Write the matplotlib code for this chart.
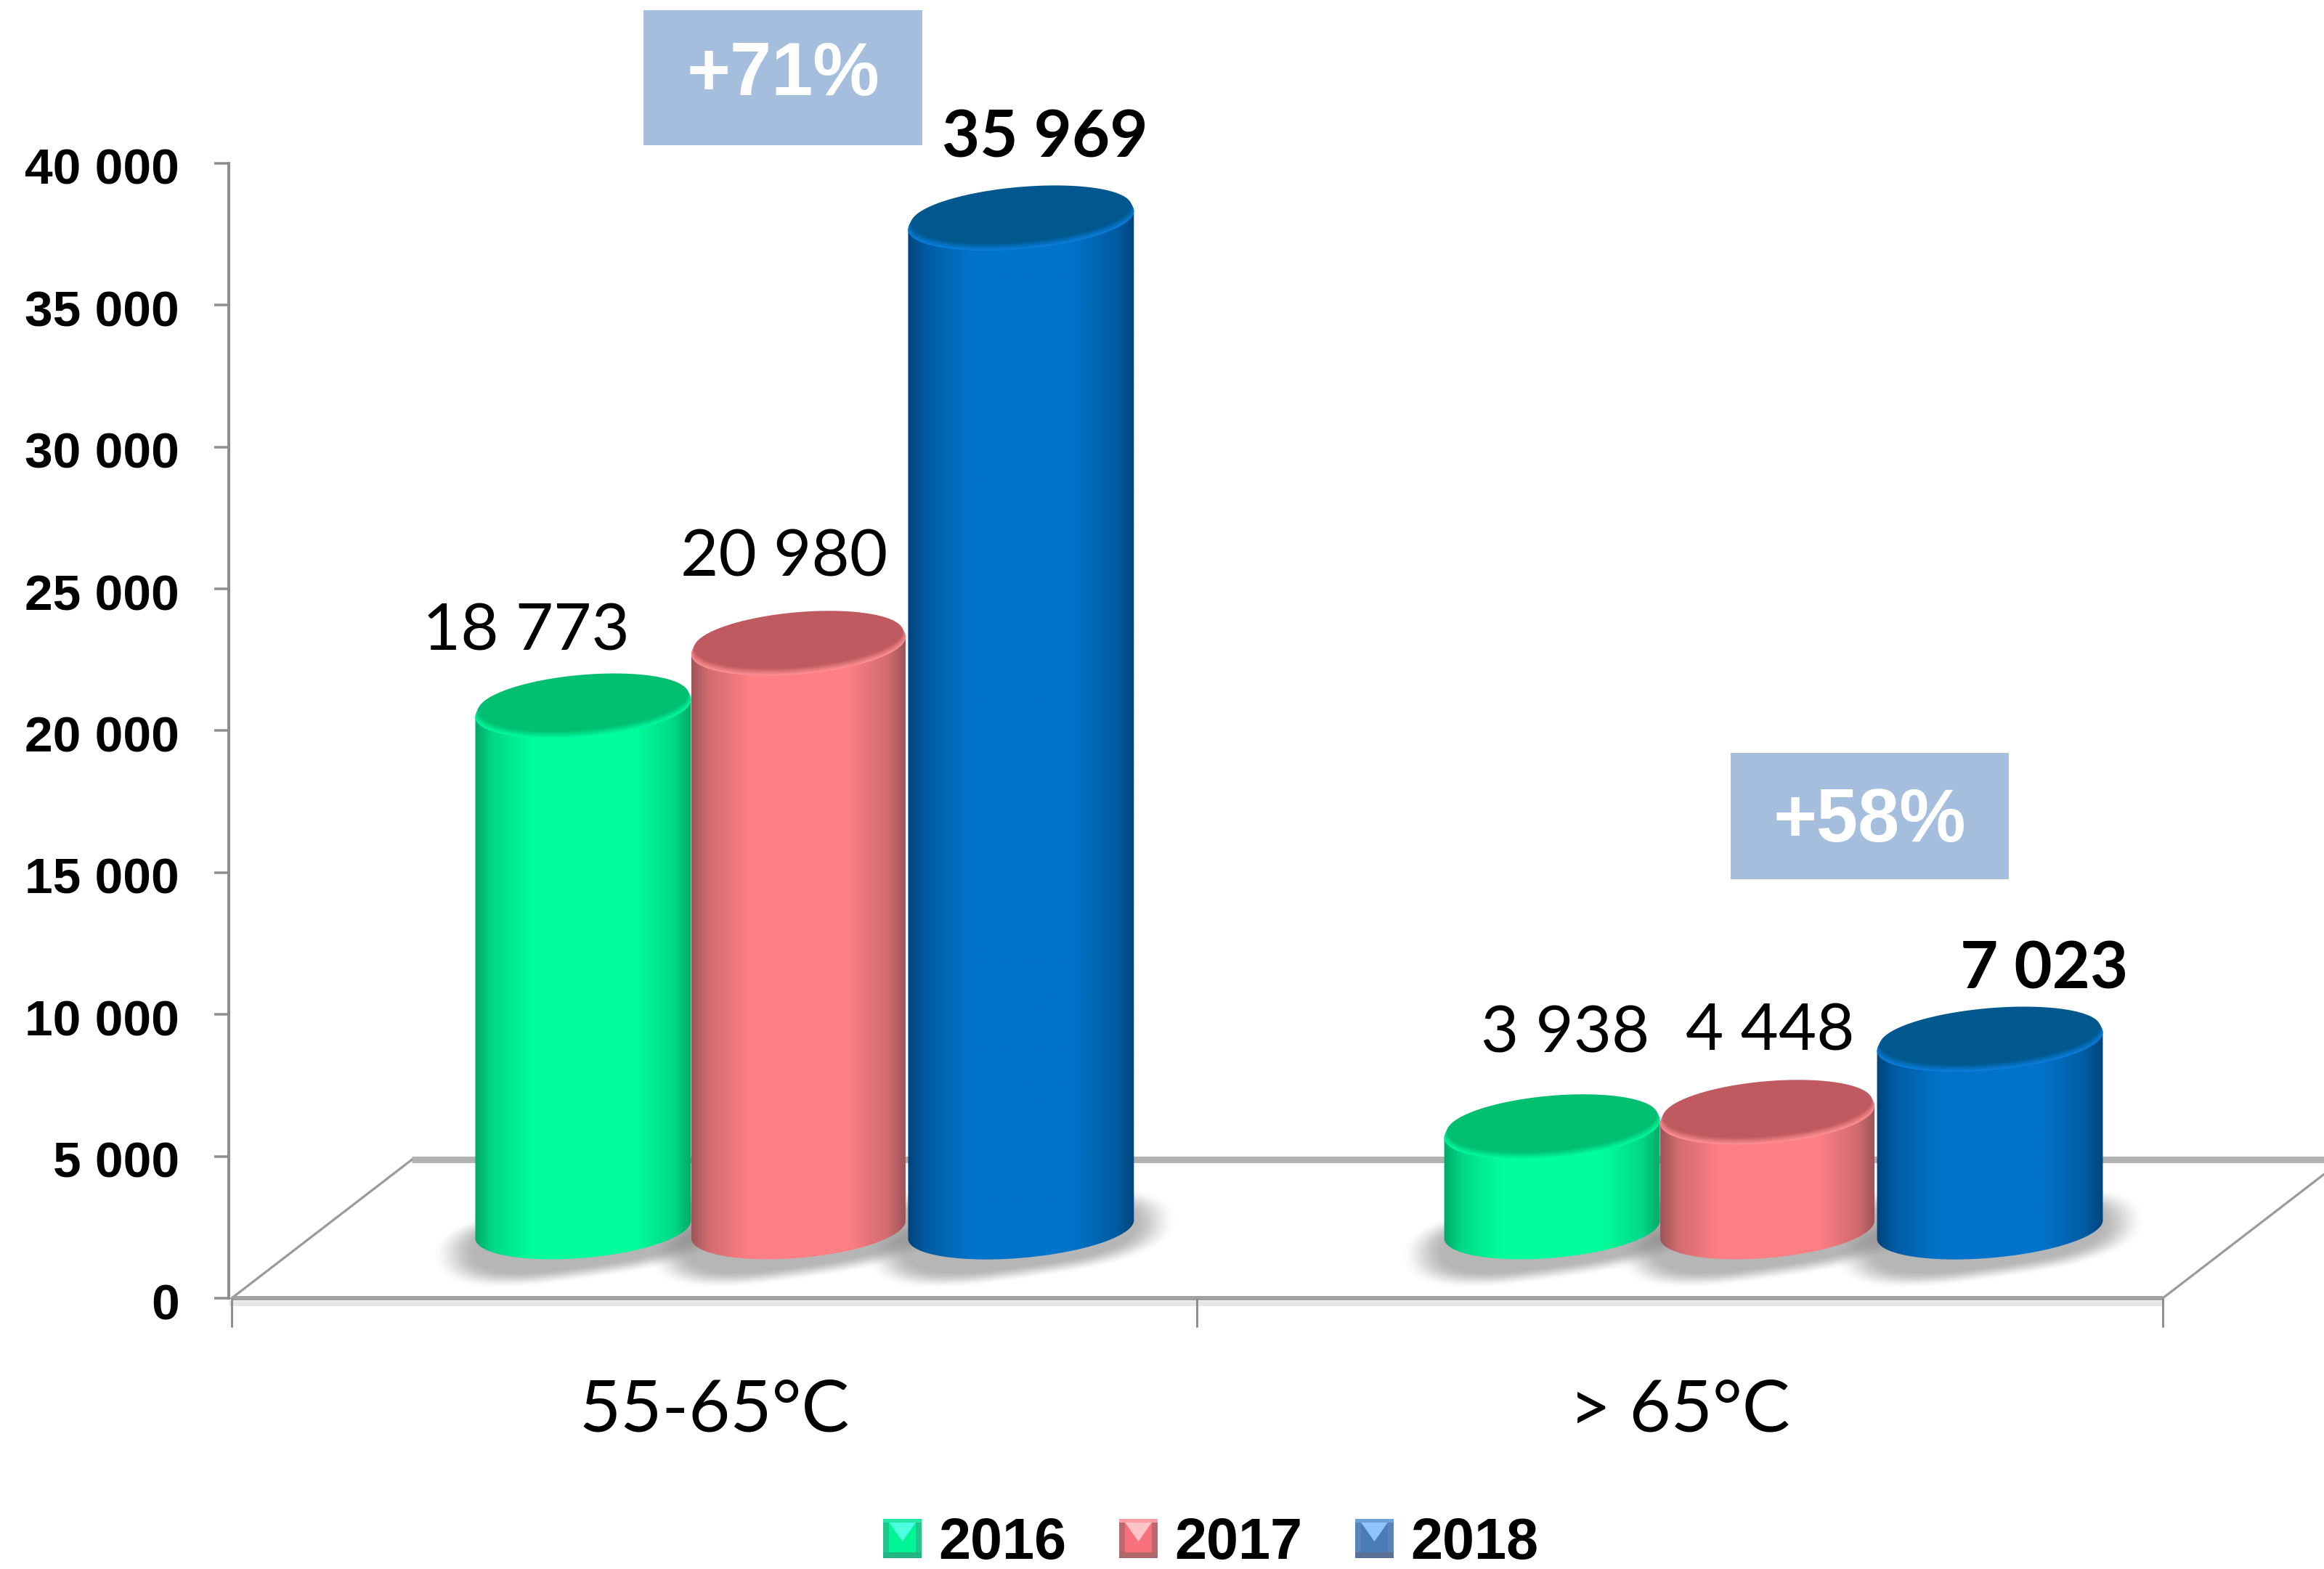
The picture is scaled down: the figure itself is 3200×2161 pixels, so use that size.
import numpy as np
import matplotlib
matplotlib.use("Agg")
import matplotlib.pyplot as plt
from matplotlib.patches import Polygon, Rectangle
from matplotlib.legend_handler import HandlerBase
from matplotlib.colors import to_rgb
from matplotlib.transforms import ScaledTranslation

# ---------- data ----------
categories = ["55-65°C", "> 65°C"]
years = ["2016", "2017", "2018"]
values_2016 = [18773, 3938]
values_2017 = [20980, 4448]
values_2018 = [35969, 7023]
labels_2016 = ["18 773", "3 938"]
labels_2017 = ["20 980", "4 448"]
labels_2018 = ["35 969", "7 023"]
y_ticks = [0, 5000, 10000, 15000, 20000, 25000, 30000, 35000, 40000]
y_tick_labels = ["0", "5 000", "10 000", "15 000", "20 000", "25 000", "30 000", "35 000", "40 000"]
growth_labels = ["+71%", "+58%"]

# ---------- layout (pixels of the 3200x2161 canvas) ----------
W, H = 3200, 2161
DPI = 100
AX_L, AX_R, AX_T, AX_B = 315, 2978, 225, 1788
X0_PX = 319
fig = plt.figure(figsize=(W / DPI, H / DPI), dpi=DPI, facecolor="white")
ax = fig.add_axes([AX_L / W, 1 - AX_B / H, (AX_R - AX_L) / W, (AX_B - AX_T) / H])
ax.patch.set_alpha(0)
SX = (AX_R - X0_PX) / 2.0          # px per x unit
SY = (AX_B - AX_T) / 40000.0       # px per y unit
XMIN = (AX_L - X0_PX) / SX

GRAY = "#8E8E8E"
FONT_B = "Liberation Sans"
FONT_R = "Lato"
PT = 72.0 / DPI

# ---------- floor ----------
DX, DY = 248 / SX, 4880
ax.plot([XMIN, 2], [-170, -170], color="#E6E6E6", lw=7 * PT, zorder=0.8, clip_on=False, solid_capstyle="butt")
ax.plot([DX, 2 + DX], [DY, DY], color="#B2B2B2", lw=9 * PT, zorder=1, clip_on=False, solid_capstyle="butt")
ax.plot([0, 2], [0, 0], color="#A0A0A0", lw=6 * PT, zorder=1.2, clip_on=False, solid_capstyle="butt")
ax.plot([0, DX], [0, DY], color="#9A9A9A", lw=3.2 * PT, zorder=1, clip_on=False)
ax.plot([2, 2 + DX], [0, DY], color="#9A9A9A", lw=3.2 * PT, zorder=1, clip_on=False)

# ---------- cylinders ----------
BASE = 2420       # where the bottom of a cylinder sits on the floor
LID_BASE = 2010   # what the lid height is measured from
B_PX = 39.0
THETA = np.radians(5)
group_center = [0.590, 1.5935]
bar_w = [298 / SX, 296 / SX, 312 / SX]
bar_off = [-0.2260, -0.0030, 0.2275]

styles = [
    dict(edge="#00A868", mid="#00D888", center="#00FF9C", cap="#00BF70", rim="#00FAA0"),
    dict(edge="#9C5558", mid="#D06C70", center="#FF7F84", cap="#BF5A60", rim="#FF8F92"),
    dict(edge="#00447C", mid="#005CA2", center="#0073CA", cap="#00588F", rim="#0A7EDC"),
]


def rgb(c):
    return np.array(to_rgb(c))


def outline(cx, v, w, t0=0.0, t1=2 * np.pi, k=1.0, dy_px=0.0, n=90):
    a, b = w * SX / 2 * k, B_PX * k
    t = np.linspace(t0, t1, n)
    px = a * np.cos(t) * np.cos(THETA) - b * np.sin(t) * np.sin(THETA)
    py = a * np.cos(t) * np.sin(THETA) + b * np.sin(t) * np.cos(THETA)
    return np.c_[cx + px / SX, v + (py + dy_px) / SY]


def shadow(cx, w, z):
    A, B = w * SX / 2 + 62, 58
    xs = np.linspace(-A - 10, A + 10, 220)
    ys = np.linspace(-A * 0.4, A * 0.4, 160)
    gx, gy = np.meshgrid(xs, ys)
    u = gx * np.cos(THETA * 1.6) + gy * np.sin(THETA * 1.6)
    vv = -gx * np.sin(THETA * 1.6) + gy * np.cos(THETA * 1.6)
    r = ((np.abs(u) / A) ** 3 + (np.abs(vv) / B) ** 2.4) ** (1 / 2.4)
    s = np.clip((1 - r) / 0.36, 0, 1)
    alpha = 0.52 * s * s * (3 - 2 * s)
    img = np.zeros(alpha.shape + (4,))
    img[..., :3] = 0.45
    img[..., 3] = alpha
    ax.imshow(img, origin="lower", aspect="auto", zorder=z, interpolation="bilinear",
              extent=[cx + xs[0] / SX, cx + xs[-1] / SX,
                      BASE + (ys[0] - 12) / SY, BASE + (ys[-1] - 12) / SY])


def cylinder(cx, w, value, st, z):
    top = LID_BASE + value
    a = w * SX / 2
    phi = np.arctan2(B_PX * np.sin(THETA), a * np.cos(THETA))
    lower = outline(cx, BASE, w, np.pi - phi, 2 * np.pi - phi)
    upper = outline(cx, top, w, -phi, np.pi - phi)
    poly = Polygon(np.vstack([lower, upper]), closed=True, transform=ax.transData,
                   facecolor="none", edgecolor="none")
    ax.add_patch(poly)
    stops = [0.0, 0.08, 0.27, 0.73, 0.92, 1.0]
    cols = [st["edge"], st["mid"], st["center"], st["center"], st["mid"], st["edge"]]
    cols = np.array([to_rgb(c) for c in cols])
    pos = np.linspace(0, 1, 300)
    grad = np.stack([np.interp(pos, stops, cols[:, i]) for i in range(3)], axis=1)[None, :, :]
    im = ax.imshow(grad, aspect="auto", zorder=z, interpolation="bilinear",
                   extent=[cx - w / 2, cx + w / 2, BASE - 60 / SY, top + 60 / SY])
    im.set_clip_path(poly)
    # cap: bright bevelled rim that fades into the darker lid
    ax.add_patch(Polygon(outline(cx, top, w), closed=True, facecolor=st["rim"],
                         edgecolor="none", zorder=z + 0.1))
    steps = 7
    for i in range(steps):
        f = (i + 1) / steps
        col = rgb(st["rim"]) * (1 - f) + rgb(st["cap"]) * f
        ax.add_patch(Polygon(outline(cx, top, w, k=1 - 0.004 * i, dy_px=1.2 * (i + 1)),
                             closed=True, facecolor=col, edgecolor="none", zorder=z + 0.1 + 0.01 * i))


series = [values_2016, values_2017, values_2018]
bar_labels = [labels_2016, labels_2017, labels_2018]
# label offsets from the centre of each cylinder lid, in pixels (hand-placed in the source)
label_dx = [[-79, 18], [-20, 4], [33, 75]]
label_dy = [[105, 131], [121, 114], [113, 100]]

for g, gc in enumerate(group_center):
    for s in range(3):
        shadow(gc + bar_off[s], bar_w[s], 2 + 0.1 * s)
    for s in range(3):
        cx = gc + bar_off[s]
        cylinder(cx, bar_w[s], series[s][g], styles[s], 3 + s)
        bold = s == 2
        ax.annotate(bar_labels[s][g], xy=(cx, LID_BASE + series[s][g]),
                    xytext=(label_dx[s][g], label_dy[s][g]), textcoords="offset pixels",
                    ha="center", va="center", fontsize=65, family=FONT_R,
                    fontweight="bold" if bold else "normal", color="black",
                    annotation_clip=False, zorder=10)

# ---------- axes ----------
ax.set_xlim(XMIN, 2)
ax.set_ylim(0, 40000)
for sp in ("top", "right", "bottom"):
    ax.spines[sp].set_visible(False)
ax.spines["left"].set_color(GRAY)
ax.spines["left"].set_linewidth(4 * PT)
ax.set_yticks(y_ticks)
ax.set_yticklabels(y_tick_labels, fontsize=50, fontweight="bold", family=FONT_B)
ax.tick_params(axis="y", length=20 * PT, width=3.5 * PT, color=GRAY, pad=48 * PT, labelcolor="black")
shift = ScaledTranslation(0, -4 / DPI, fig.dpi_scale_trans)
for lab in ax.get_yticklabels():
    lab.set_transform(lab.get_transform() + shift)
ax.set_xticks([0, 1, 2])
ax.set_xticklabels(["", "", ""])
ax.tick_params(axis="x", which="major", length=40 * PT, width=3 * PT, color=GRAY)
ax.set_xticks([0.5, 1.5], minor=True)
ax.set_xticklabels(categories, minor=True, fontsize=71, family=FONT_R, color="black")
ax.tick_params(axis="x", which="minor", length=0, pad=110 * PT)


# ---------- growth call-outs ----------
def box(x0, y0, x1, y1, text_y, txt):
    fig.add_artist(Rectangle((x0 / W, 1 - y1 / H), (x1 - x0) / W, (y1 - y0) / H,
                             transform=fig.transFigure, facecolor="#A6BEDD", edgecolor="none"))
    fig.text((x0 + x1) / 2 / W, 1 - text_y / H, txt, color="white", fontsize=74,
             fontweight="bold", family=FONT_B, ha="center", va="center")


box(886, 14, 1270, 200, 105, growth_labels[0])
box(2383, 1037, 2766, 1211, 1133, growth_labels[1])


# ---------- legend ----------
class Swatch:
    def __init__(self, base, edge, band, tri, foot):
        self.base, self.edge, self.band, self.tri, self.foot = base, edge, band, tri, foot


class SwatchHandler(HandlerBase):
    def create_artists(self, legend, orig, xd, yd, width, height, fontsize, trans):
        x, y, w, h = -xd, -yd, width, height
        arts = [
            Rectangle((x, y), w, h, facecolor=orig.edge, edgecolor="none", transform=trans),
            Rectangle((x + .16 * w, y + .14 * h), .68 * w, .76 * h, facecolor=orig.base, edgecolor="none", transform=trans),
            Rectangle((x, y + .9 * h), w, .1 * h, facecolor=orig.band, edgecolor="none", transform=trans),
            Rectangle((x, y), w, .14 * h, facecolor=orig.foot, edgecolor="none", transform=trans),
            Polygon([(x + .16 * w, y + .9 * h), (x + .84 * w, y + .9 * h), (x + .5 * w, y + .42 * h)],
                    closed=True, facecolor=orig.tri, edgecolor="none", transform=trans),
        ]
        return arts


swatches = [
    Swatch("#00F596", "#25C48C", "#25E8A8", "#4DFFE0", "#22B584"),
    Swatch("#F8707A", "#BC686C", "#FF9EA2", "#FFC4C8", "#B0686C"),
    Swatch("#4A7DB8", "#5A85BA", "#70A0D8", "#90C4FF", "#5A7095"),
]
leg = fig.legend(swatches, years, loc="center", bbox_to_anchor=(1667 / W, 1 - 2126 / H),
                 bbox_transform=fig.transFigure, ncol=3, frameon=False, borderpad=0,
                 handlelength=0.68, handleheight=0.68, handletextpad=0.29, columnspacing=0.91,
                 handler_map={Swatch: SwatchHandler()},
                 prop={"family": FONT_B, "weight": "bold", "size": 57})

fig.savefig("out.png", dpi=DPI, facecolor="white")
